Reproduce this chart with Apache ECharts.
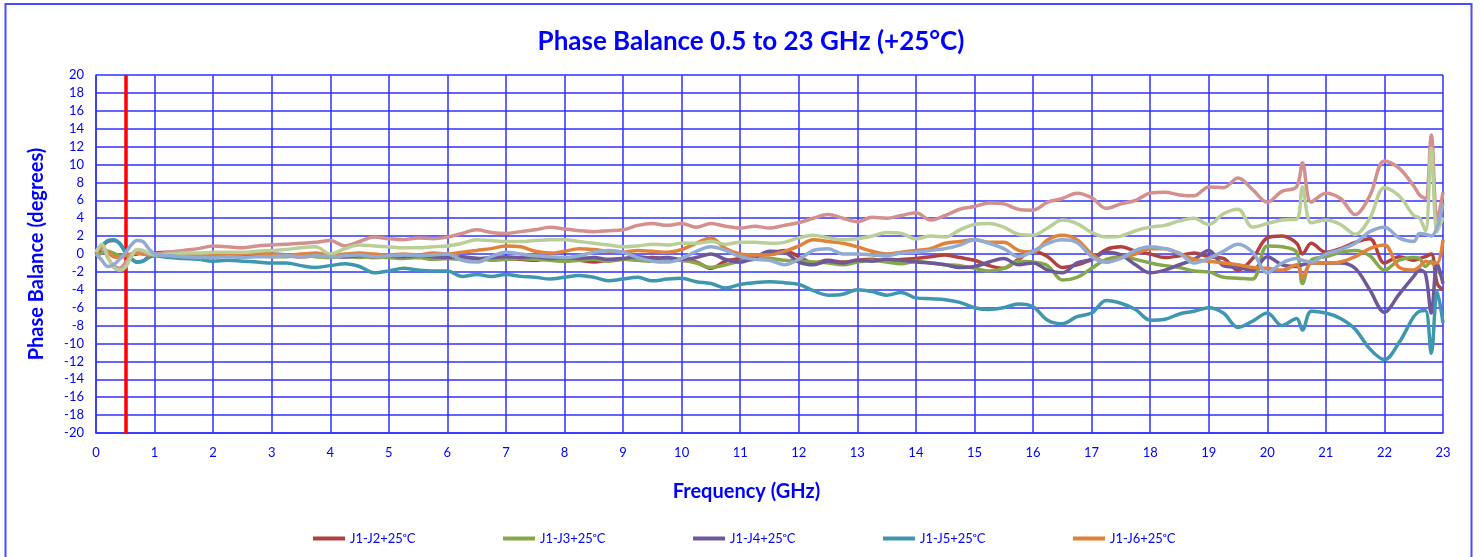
<!DOCTYPE html>
<html>
<head>
<meta charset="utf-8">
<script src="https://cdn.jsdelivr.net/npm/echarts@6/dist/echarts.min.js"></script>
<style>
html,body{margin:0;padding:0;background:#fff;}
#chart{width:1480px;height:557px;}
</style>
</head>
<body>
<div id="chart"></div>
<script>
const titleText = 'Phase Balance 0.5 to 23 GHz (+25°C)';
const xName = 'Frequency (GHz)';
const yName = 'Phase Balance (degrees)';
const seriesNames = ['J1-J2+25ᵒC','J1-J3+25ᵒC','J1-J4+25ᵒC','J1-J5+25ᵒC','J1-J6+25ᵒC','J1-J7+25ᵒC','J1-J8+25ᵒC','J1-J9+25ᵒC'];
const legendNames = ['J1-J2+25ᵒC','J1-J3+25ᵒC','J1-J4+25ᵒC','J1-J5+25ᵒC','J1-J6+25ᵒC'];
const markerFreq = 0.5;

const freq = [0,0.1,0.2,0.3,0.4,0.5,0.6,0.7,0.8,0.9,1,
1.25,1.5,1.75,2,2.25,2.5,2.75,3,3.25,3.5,3.75,4,4.25,4.5,4.75,5,5.25,5.5,5.75,6,6.25,6.5,6.75,7,7.25,7.5,7.75,8,8.25,8.5,8.75,9,9.25,9.5,9.75,10,10.25,10.5,10.75,11,11.25,11.5,11.75,12,12.25,12.5,12.75,13,13.25,13.5,13.75,14,14.25,14.5,14.75,15,15.25,15.5,15.75,16,16.25,16.5,16.75,17,17.25,17.5,17.75,18,18.25,18.5,18.75,19,19.25,19.5,19.75,20,20.25,20.5,
20.6,
20.75,21,21.25,21.5,21.75,22,22.25,22.5,
22.6,22.7,22.8,22.9,23];

const j2 = [0.0,0.2,0.1,-0.1,-0.2,-0.2,-0.1,0.0,0.1,0.0,-0.1,
-0.1,0.0,-0.1,-0.2, -0.2,-0.1,-0.2,-0.1, -0.2,-0.3,-0.2,-0.1, -0.3,-0.2,-0.4,-0.3, -0.3,-0.4,-0.3,-0.5, -0.4,-0.5,-0.6,-0.5, -0.6,-0.7,-0.5,-0.6, -0.7,-0.9,-0.7,-0.6, -0.5,-0.4,-0.6,-0.7, -0.9,-1.6,-0.8,-0.5, -0.2,0.0,0.4,-0.3, -1.0,-0.7,-0.9,-0.7, -0.6,-0.8,-0.6,-0.5, -0.3,-0.1,-0.4,-0.7, -1.3,-1.6,-0.6,0.3, -0.3,-1.5,-1.2,-0.6, 0.5,0.8,0.3,0.0, -0.4,-0.2,0.1,-0.3, -0.5,-1.8,-0.5,1.8, 2.0,1.2,
0.0,
1.2,0.2,0.6,1.3,1.7,-1.0,-0.3,-0.7,
-0.5,-0.3,0.0,-3.3,-4.0];

const j3 = [-0.2,0.1,0.3,0.1,-0.2,-0.3,-0.1,0.1,0.0,-0.1,-0.2,
-0.1,-0.2,-0.2,-0.1, -0.2,-0.3,-0.2,-0.3, -0.3,-0.2,-0.3,-0.4, -0.3,-0.4,-0.3,-0.4, -0.5,-0.4,-0.6,-0.5, -0.6,-0.5,-0.7,-0.6, -0.5,-0.6,-0.7,-0.8, -0.7,-0.6,-0.8,-0.6, -0.7,-0.8,-0.6,-0.7, -1.0,-1.5,-1.2,-0.8, -0.6,-0.5,-0.7,-0.8, -0.9,-1.0,-1.2,-0.9, -0.7,-0.9,-1.1,-0.8, -1.0,-1.2,-1.3,-1.6, -1.9,-1.6,-0.8,-0.9, -1.3,-2.9,-2.6,-1.6, -0.6,-0.3,-0.6,-1.0, -1.3,-1.5,-1.9,-2.0, -2.6,-2.7,-2.8,0.9, 0.8,0.2,
-3.3,
-0.7,-0.3,0.2,0.4,-0.2,-1.8,-0.7,-0.4,
-0.5,-1.4,-0.8,-1.8,-2.6];

const j4 = [0.0,0.8,1.4,1.5,1.2,0.3,-0.5,-0.9,-0.8,-0.3,0.1,
0.2,0.1,-0.1,-0.2, -0.1,-0.2,-0.1,0.0, -0.1,-0.2,-0.1,-0.2, -0.3,-0.2,-0.1,-0.2, -0.3,-0.2,-0.3,-0.4, -0.3,-0.5,-0.4,-0.3, -0.4,-0.3,-0.5,-0.4, -0.5,-0.4,-0.6,-0.5, -0.3,-0.5,-0.4,-0.6, -0.4,0.0,-0.6,-0.9, -0.4,0.3,0.2,-0.9, -1.2,-0.8,-1.0,-0.7, -0.8,-0.6,-0.7,-0.9, -1.0,-1.2,-1.5,-1.4, -0.9,-0.5,-1.2,-1.0, -1.8,-2.1,-1.0,-0.6, 0.2,-0.1,-1.2,-2.1, -1.8,-1.2,-0.6,0.4, -1.3,-1.5,-1.8,-0.3, -1.2,-1.4,
-1.2,
-1.0,-1.0,-1.0,-1.6,-4.0,-6.5,-4.5,-2.5,
-1.8,-2.2,-6.6,-1.0,-3.3];

const j5 = [0.0,0.9,1.5,1.6,1.2,0.2,-0.5,-0.9,-0.8,-0.4,-0.2,
-0.4,-0.5,-0.6,-0.8, -0.7,-0.8,-0.9,-1.0, -1.0,-1.3,-1.5,-1.3, -1.1,-1.4,-2.1,-1.9, -1.6,-1.8,-1.9,-1.9, -2.5,-2.3,-2.5,-2.3, -2.5,-2.6,-2.8,-2.6, -2.4,-2.6,-3.0,-2.8, -2.6,-3.0,-2.8,-2.7, -3.1,-3.3,-3.8,-3.4, -3.2,-3.1,-3.2,-3.4, -4.1,-4.6,-4.5,-4.0, -4.2,-4.6,-4.3,-4.9, -5.0,-5.1,-5.4,-6.0, -6.2,-6.0,-5.6,-5.9, -7.4,-7.8,-7.0,-6.6, -5.2,-5.5,-6.2,-7.4, -7.3,-6.7,-6.4,-6.0, -6.6,-8.2,-7.5,-6.6, -8.0,-7.2,
-8.5,
-6.4,-6.6,-7.2,-8.4,-10.6,-11.8,-9.9,-7.0,
-6.4,-6.3,-11.1,-4.2,-7.7];

const j6 = [0.0,0.7,0.2,-0.3,-0.4,-0.2,0.0,0.1,0.0,-0.1,0.0,
-0.1,0.0,-0.1,0.0, -0.1,0.0,0.1,0.0, -0.1,0.0,0.1,-0.1, 0.0,0.1,0.0,-0.1, 0.0,-0.1,0.1,0.0, 0.2,0.4,0.6,0.9, 0.8,0.3,0.1,0.3, 0.6,0.5,0.3,0.2, 0.4,0.3,0.2,0.5, 1.2,1.8,0.6,0.0, -0.1,-0.1,0.3,0.9, 1.6,1.4,1.2,0.8, 0.3,0.0,0.2,0.4, 0.6,1.2,1.4,1.6, 1.3,1.3,0.4,0.2, 1.6,2.1,1.6,0.0, -0.9,-0.4,0.0,0.6, 0.6,0.0,-0.6,-0.8, -1.0,-1.2,-1.5,-1.6, -1.8,-1.2,
-2.6,
-1.0,-1.0,-0.9,-0.3,0.6,1.0,-1.5,-1.8,
-1.4,-0.8,-1.0,-1.0,1.6];

const j7 = [0.3,0.9,-0.4,-1.3,-1.6,-1.0,-0.1,0.4,0.3,0.0,0.0,
0.2,0.4,0.6,0.9, 0.8,0.7,0.9,1.0, 1.1,1.2,1.3,1.5, 0.9,1.4,1.9,1.7, 1.6,1.8,1.7,1.9, 2.3,2.7,2.4,2.3, 2.5,2.7,3.0,2.8, 2.6,2.5,2.6,2.7, 3.2,3.4,3.2,3.4, 3.0,3.4,3.1,2.9, 3.1,2.9,3.2,3.5, 4.0,4.4,4.0,3.6, 4.1,4.0,4.3,4.6, 3.8,4.3,5.0,5.3, 5.7,5.6,5.0,4.9, 5.8,6.2,6.8,6.3, 5.1,5.6,6.0,6.8, 6.9,6.6,6.5,7.5, 7.4,8.5,7.2,5.8, 7.0,7.5,
10.2,
5.8,6.8,6.2,4.4,6.5,10.4,9.6,7.6,
6.6,6.2,13.3,3.8,6.9];

const j8 = [0.2,1.1,-0.3,-1.5,-1.8,-1.5,-0.3,0.5,0.4,0.1,-0.1,
0.0,0.1,0.1,0.2, 0.2,0.2,0.3,0.4, 0.5,0.7,0.8,0.0, 0.6,1.0,0.9,0.8, 0.7,0.7,0.8,0.9, 1.2,1.6,1.5,1.4, 1.4,1.5,1.6,1.6, 1.4,1.2,1.0,0.8, 0.9,1.1,1.0,1.2, 1.2,1.4,1.1,1.3, 1.3,1.2,1.3,1.8, 2.1,1.8,1.6,1.7, 2.0,2.4,2.3,1.7, 2.0,1.9,2.7,3.3, 3.4,3.0,2.2,2.1, 2.9,3.8,3.4,2.4, 1.9,2.0,2.6,3.0, 3.2,3.7,4.0,3.3, 4.5,5.0,3.0,3.4, 3.8,3.9,
7.5,
3.5,3.8,3.3,2.2,4.0,7.4,6.5,4.3,
4.0,2.6,11.8,2.5,4.1];

const j9 = [0.0,-0.7,-1.4,-1.2,-0.6,0.1,1.0,1.5,1.4,0.6,0.0,
-0.2,-0.3,-0.4,-0.4, -0.3,-0.4,-0.3,-0.3, -0.2,-0.3,-0.2,-0.3, -0.2,-0.1,-0.3,-0.2, -0.1,-0.2,-0.1,0.0, -0.7,-0.9,-0.3,0.2, 0.0,-0.2,-0.3,-0.4, -0.2,0.2,0.4,0.2, -0.4,-0.8,-0.9,-0.5, 0.3,0.8,0.4,-0.3, -0.6,-0.7,-1.2,-0.6, 0.4,0.6,0.0,0.0, -0.1,-0.2,0.1,0.2, 0.4,0.6,1.0,1.6, 1.2,0.6,-0.3,0.3, 1.2,1.6,1.3,-0.3, -0.9,-0.5,0.4,0.8, 0.6,0.1,-1.0,-0.5, 0.3,1.1,0.2,-2.1, -1.0,-0.5,
-0.7,
-0.9,0.0,0.5,1.2,2.5,3.0,1.8,1.4,
2.3,2.2,2.0,3.0,5.7];

const seriesValues = [j2, j3, j4, j5, j6, j7, j8, j9];
const colors = ['#B0413E','#86A84A','#6E5898','#3E97AF','#E0823A','#D3908E','#BACF98','#92ABD3'];

const textBlue = '#0000FF';
const gridBlue = '#3030FF';

const chart = echarts.init(document.getElementById('chart'), null, {renderer: 'canvas'});

const series = seriesValues.map((vals, i) => ({
  name: seriesNames[i],
  type: 'line',
  data: freq.map((f, k) => [f, vals[k]]),
  showSymbol: false,
  symbol: 'none',
  smooth: 0.35,
  lineStyle: {color: colors[i], width: 3.5},
  itemStyle: {color: colors[i]},
  z: 2 + i
}));

series.push({
  name: 'marker',
  type: 'line',
  data: [],
  markLine: {
    silent: true,
    symbol: ['none','none'],
    label: {show: false},
    lineStyle: {color: '#FF0000', width: 3.5, type: 'solid'},
    data: [{xAxis: markerFreq}]
  },
  z: 20
});

const legendLefts = [308, 498, 688, 878, 1068];
const legends = legendNames.map((n, i) => ({
  data: [n],
  left: legendLefts[i],
  top: 527,
  itemWidth: 32,
  itemHeight: 4,
  icon: 'rect',
  textStyle: {color: textBlue, fontSize: 13, fontFamily: 'Lato'}
}));

chart.setOption({
  animation: false,
  backgroundColor: '#fff',
  color: colors,
  title: {
    text: titleText,
    left: 746,
    textAlign: 'center',
    top: 24,
    textStyle: {color: textBlue, fontSize: 26, fontWeight: 'bold', fontFamily: 'Lato'}
  },
  graphic: [{
    type: 'rect',
    shape: {x: 5.5, y: 4, width: 1466, height: 570},
    style: {fill: 'none', stroke: '#4A4AFF', lineWidth: 2},
    silent: true
  }],
  legend: legends,
  grid: {left: 96, right: 37, top: 75, bottom: 124, containLabel: false},
  xAxis: {
    type: 'value',
    min: 0, max: 23, interval: 1,
    name: xName,
    nameLocation: 'middle',
    nameGap: 49,
    nameTextStyle: {color: textBlue, fontSize: 20, fontWeight: 'bold', fontFamily: 'Lato', padding: [0, 46, 0, 0]},
    axisLine: {onZero: false, lineStyle: {color: gridBlue, width: 1.5}},
    axisTick: {show: false},
    axisLabel: {color: textBlue, fontSize: 13, fontFamily: 'Lato', margin: 13},
    splitLine: {show: true, lineStyle: {color: gridBlue, width: 1.5}}
  },
  yAxis: {
    type: 'value',
    min: -20, max: 20, interval: 2,
    name: yName,
    nameLocation: 'middle',
    nameGap: 49,
    nameRotate: 90,
    nameTextStyle: {color: textBlue, fontSize: 20, fontWeight: 'bold', fontFamily: 'Lato'},
    axisLine: {show: true, onZero: false, lineStyle: {color: gridBlue, width: 1.5}},
    axisTick: {show: false},
    axisLabel: {color: textBlue, fontSize: 13, fontFamily: 'Lato', margin: 12},
    splitLine: {show: true, lineStyle: {color: gridBlue, width: 1.5}}
  },
  series: series
});
</script>
</body>
</html>
